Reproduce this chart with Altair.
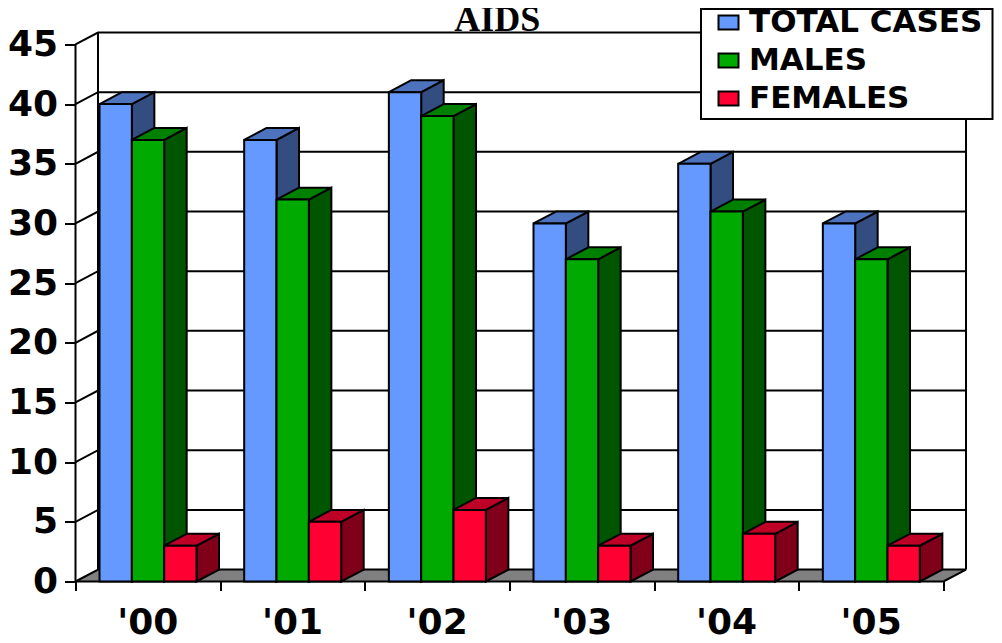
import altair as alt
import pandas as pd

chart_title = ["AIDS"]
years = ["'00", "'01", "'02", "'03", "'04", "'05"]
total_cases = [40, 37, 41, 30, 35, 30]
males = [37, 32, 39, 27, 31, 27]
females = [3, 5, 6, 3, 4, 3]
series_names = ["TOTAL CASES", "MALES", "FEMALES"]
front_colors = ["#6699FF", "#00AA00", "#FF0033"]
top_colors = ["#4D73BF", "#008000", "#BF0026"]
side_colors = ["#334D80", "#005500", "#800019"]
y_ticks = list(range(0, 50, 5))

# oblique projection, in data units
DX = 0.1556
DY = 1.0
N = len(years)
OFFSET = 0.166
BAR = 0.2235
XDOM = [0, N + DX]
YDOM = [0, 45 + DY]

xs = alt.Scale(domain=XDOM, nice=False, zero=False)
ys = alt.Scale(domain=YDOM, nice=False, zero=False)
x_axis = alt.Axis(values=list(range(N + 1)), labels=False, domain=False, grid=False,
                  tickSize=9, tickWidth=2, tickColor="black", title=None)
y_axis = alt.Axis(values=y_ticks, domain=False, grid=False, tickSize=11, tickWidth=2,
                  tickColor="black", labelFont="DejaVu Sans", labelFontWeight="bold",
                  labelFontSize=36, labelColor="black", labelPadding=7, title=None)
X = lambda f: alt.X(f, type="quantitative", scale=xs, axis=x_axis)
Y = lambda f: alt.Y(f, type="quantitative", scale=ys, axis=y_axis)

all_values = [total_cases, males, females]
fronts, sides, tops = [], [], []
for s, vals in enumerate(all_values):
    for g, v in enumerate(vals):
        x0 = g + OFFSET + s * BAR
        x1 = x0 + BAR
        fronts.append(dict(series=series_names[s], x0=x0, x1=x1, v=v, base=0))
        sides += [
            dict(s=s, g=g, x=x1, lo=0, hi=v),
            dict(s=s, g=g, x=x1 + DX, lo=DY, hi=v + DY),
        ]
        tops += [
            dict(s=s, g=g, y=v, a=x0, b=x1),
            dict(s=s, g=g, y=v + DY, a=x0 + DX, b=x1 + DX),
        ]
fronts, sides, tops = map(pd.DataFrame, (fronts, sides, tops))

# wall grid lines
grid_rows = []
for t in y_ticks[1:]:
    grid_rows += [dict(t=t, o=0, x=0, y=t), dict(t=t, o=1, x=DX, y=t + DY),
                  dict(t=t, o=2, x=N + DX, y=t + DY)]
grid = alt.Chart(pd.DataFrame(grid_rows)).mark_line(color="black", strokeWidth=2).encode(
    x=X("x"), y=Y("y"), detail="t:N", order="o:Q")

# structural lines: front axis, back corner, right edge
edge_rows = [dict(k=0, x=0, y=0), dict(k=0, x=0, y=45),
             dict(k=1, x=DX, y=DY), dict(k=1, x=DX, y=45 + DY),
             dict(k=2, x=N + DX, y=DY), dict(k=2, x=N + DX, y=45 + DY)]
edges = alt.Chart(pd.DataFrame(edge_rows)).mark_line(color="black", strokeWidth=2).encode(
    x=X("x"), y=Y("y"), detail="k:N")

# floor
floor = alt.Chart(pd.DataFrame([dict(y=0, a=0, b=N), dict(y=DY, a=DX, b=N + DX)])).mark_area(
    orient="horizontal", fill="#808080", stroke="black", strokeWidth=2).encode(
    y=Y("y"), x=X("a"), x2="b")

layers = [grid, edges, floor]
for s in range(3):
    layers.append(alt.Chart(sides[sides.s == s]).mark_area(
        fill=side_colors[s], stroke="black", strokeWidth=2).encode(
        x=X("x"), y=Y("lo"), y2="hi", detail="g:N"))
    layers.append(alt.Chart(tops[tops.s == s]).mark_area(
        orient="horizontal", fill=top_colors[s], stroke="black", strokeWidth=2).encode(
        y=Y("y"), x=X("a"), x2="b", detail="g:N"))

front = alt.Chart(fronts).mark_rect(stroke="black", strokeWidth=2).encode(
    x=X("x0"), x2="x1", y=Y("base"), y2="v",
    color=alt.Color("series:N",
        scale=alt.Scale(domain=series_names, range=front_colors),
        legend=alt.Legend(
            title=None, orient="none", legendX=637.5, legendY=-23,
            symbolType="M-1,-0.7H1V0.7H-1Z", symbolSize=400,
            symbolStrokeColor="black", symbolStrokeWidth=2, symbolOpacity=1,
            labelFont="DejaVu Sans", labelFontWeight="bold", labelFontSize=31,
            labelColor="black", labelLimit=400, labelOffset=5,
            rowPadding=7, clipHeight=26, padding=0)),
)
layers.append(front)

labels = alt.Chart(pd.DataFrame({"yr": years, "x": [i + 0.5 for i in range(N)], "y": [0] * N})).mark_text(
    font="DejaVu Sans", fontWeight="bold", fontSize=36, color="black",
    baseline="middle", align="center", dy=41).encode(x=X("x"), y=Y("y"), text="yr:N")
layers.append(labels)

title = alt.Chart(pd.DataFrame({"t": chart_title, "x": [2.915], "y": [46.13]})).mark_text(
    font="Liberation Serif", fontWeight="bold", fontSize=36, color="black",
    baseline="alphabetic", align="center").encode(x=X("x"), y=Y("y"), text="t:N")
layers.append(title)

# legend frame
box = alt.Chart(pd.DataFrame({"a": [0]})).mark_rect(
    fill="white", stroke="black", strokeWidth=2).encode(
    x=alt.value(625.5), x2=alt.value(917), y=alt.value(-23.5), y2=alt.value(86.5))
layers.append(box)

chart = alt.layer(*layers).properties(
    width=890.5, height=549,
    padding={"left": 67.5, "top": 24.5, "right": 28, "bottom": 61},
    autosize=alt.AutoSizeParams(type="none"),
    background="white",
).configure_view(stroke=None)

chart.save("out.html", embed_options={"renderer": "svg", "actions": False})
